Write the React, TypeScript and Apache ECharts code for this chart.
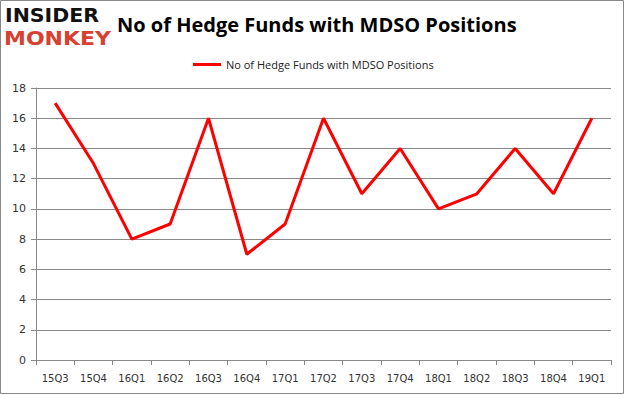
import React, { useEffect, useRef } from "react";
import * as echarts from "echarts";

const categories = ["15Q3","15Q4","16Q1","16Q2","16Q3","16Q4","17Q1","17Q2","17Q3","17Q4","18Q1","18Q2","18Q3","18Q4","19Q1"];
const values = [17,13,8,9,16,7,9,16,11,14,10,11,14,11,16];
const seriesName = "No of Hedge Funds with MDSO Positions";
const titleText = "No of Hedge Funds with MDSO Positions";

export default function App() {
  const ref = useRef<HTMLDivElement>(null);
  useEffect(() => {
    const chart = echarts.init(ref.current!, null, { renderer: "svg" });
    chart.setOption({
      animation: false,
      backgroundColor: "#fff",
      title: {
        text: titleText,
        left: 112,
        top: 9,
        textStyle: { fontFamily: "Open Sans", fontWeight: "bold", fontSize: 20, color: "#000" },
      },
      legend: {
        top: 54,
        left: 188,
        itemWidth: 28,
        itemHeight: 3,
        icon: "rect",
        itemGap: 4,
        textStyle: { fontFamily: "Open Sans", fontSize: 11, color: "#222" },
        data: [seriesName],
      },
      graphic: [
        { type: "rect", shape: { x: 0.5, y: 0.5, width: 623, height: 393 }, style: { fill: "none", stroke: "#888", lineWidth: 1 } },
        { type: "text", x: 5, y: 6, scaleX: 1.08, style: { text: "INSIDER", font: "900 19px 'DejaVu Sans'", fill: "#111", lineHeight: 20 } },
        { type: "text", x: 4, y: 28, scaleX: 1.1, style: { text: "MONKEY", font: "900 20px 'DejaVu Sans'", fill: "#d8412f", lineHeight: 20 } },
      ],
      grid: { left: 36, right: 14, top: 88, bottom: 35, containLabel: false },
      xAxis: {
        type: "category",
        data: categories,
        boundaryGap: true,
        axisLine: { lineStyle: { color: "#888" } },
        axisTick: { show: true, length: 5, lineStyle: { color: "#888" } },
        axisLabel: { fontFamily: "DejaVu Sans", fontSize: 10, color: "#333", margin: 13, interval: 0 },
      },
      yAxis: {
        type: "value",
        min: 0,
        max: 18,
        interval: 2,
        axisLine: { show: true, lineStyle: { color: "#888" } },
        axisTick: { show: true, length: 5, lineStyle: { color: "#888" } },
        splitLine: { lineStyle: { color: "#888" } },
        axisLabel: { fontFamily: "DejaVu Sans", fontSize: 11, color: "#333", margin: 10 },
      },
      series: [
        {
          name: seriesName,
          type: "line",
          data: values,
          smooth: false,
          symbol: "none",
          lineStyle: { color: "#ff0000", width: 3 },
          itemStyle: { color: "#ff0000" },
        },
      ],
    });
    return () => chart.dispose();
  }, []);
  return <div ref={ref} style={{ position: "absolute", left: 0, top: 0, width: 625, height: 395 }} />;
}
